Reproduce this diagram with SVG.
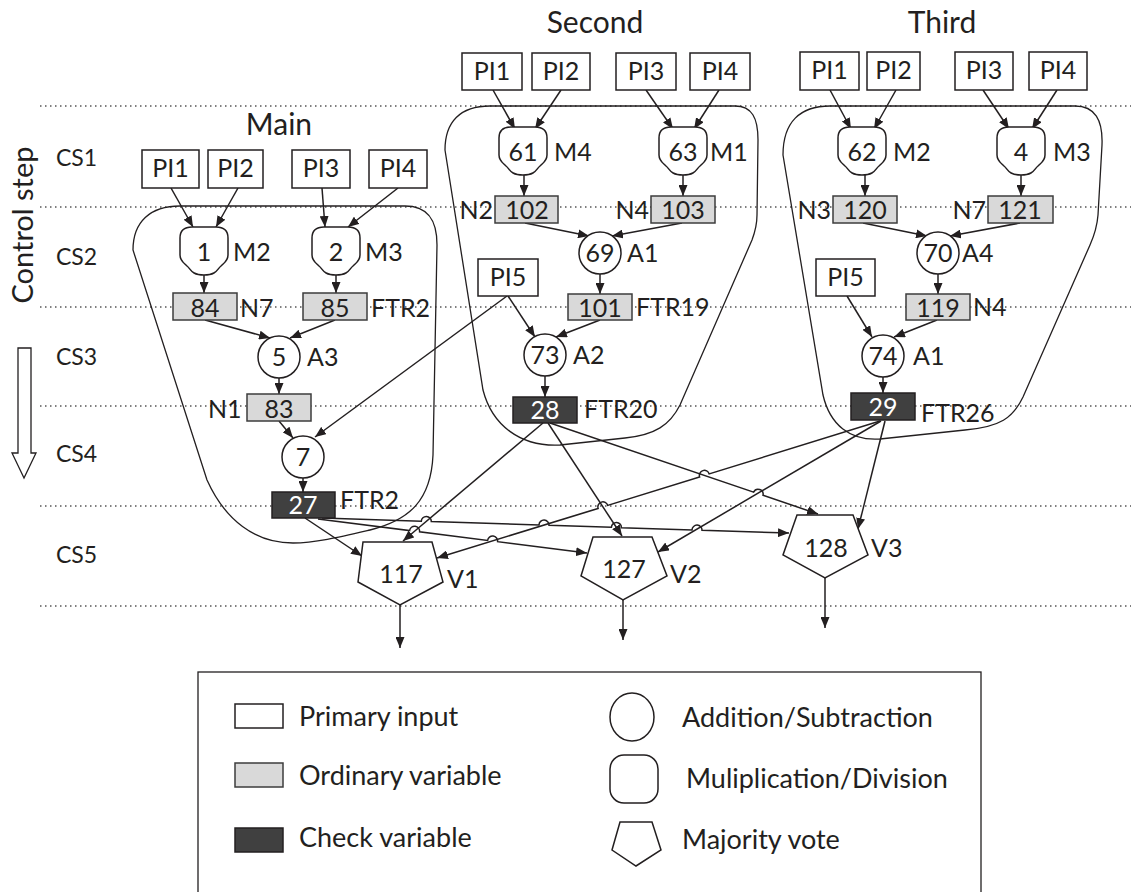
<svg xmlns="http://www.w3.org/2000/svg" width="1131" height="892" viewBox="0 0 1131 892">
  <style>
    .t { font-family: Lato, "Liberation Sans", sans-serif; font-size: 25px; fill: #231f20; }
    .c { text-anchor: middle; }
    .e { text-anchor: end; }
    .w { fill: #ffffff; }
    .title { font-size: 30px; }
    .cs { font-size: 23px; }
    .lg { font-size: 27px; }
    .pi { fill: #ffffff; stroke: #231f20; stroke-width: 1.5; }
    .ov { fill: #d9d9d9; stroke: #3c3c3c; stroke-width: 1.5; }
    .cv { fill: #404040; stroke: #231f20; stroke-width: 1.5; }
    .op { fill: #ffffff; stroke: #231f20; stroke-width: 1.5; }
    .region { fill: none; stroke: #231f20; stroke-width: 1.3; }
    .grid { stroke: #555555; stroke-width: 1.5; stroke-dasharray: 1.5 3.5; }
    .edge { fill: none; stroke: #231f20; stroke-width: 1.5; marker-end: url(#ah); }
  </style>
  <defs>
    <marker id="ah" markerUnits="userSpaceOnUse" markerWidth="11" markerHeight="9" refX="11" refY="4.5" orient="auto">
      <path d="M0,0 L11,4.5 L0,9 Z" fill="#231f20"/>
    </marker>
    <!-- multiplication / division operator outline, centred on 0,0 -->
    <path id="mul" d="M-24,-13 Q-24,-24 -12,-24 L12,-24 Q24,-24 24,-13 L24,4 C24,10 20,12 17,15 C13,18 13,24 0,24 C-13,24 -13,18 -17,15 C-20,12 -24,10 -24,4 Z"/>
  </defs>

  <rect width="1131" height="892" fill="#ffffff"/>

  <!-- control step separators -->
  <g id="steps">
    <line class="grid" x1="40" y1="106" x2="1131" y2="106"/>
    <line class="grid" x1="40" y1="207" x2="1131" y2="207"/>
    <line class="grid" x1="40" y1="307" x2="1131" y2="307"/>
    <line class="grid" x1="40" y1="406" x2="1131" y2="406"/>
    <line class="grid" x1="40" y1="506" x2="1131" y2="506"/>
    <line class="grid" x1="40" y1="606" x2="1131" y2="606"/>
    <text class="t cs" x="56" y="166">CS1</text>
    <text class="t cs" x="56" y="265">CS2</text>
    <text class="t cs" x="56" y="365">CS3</text>
    <text class="t cs" x="56" y="462">CS4</text>
    <text class="t cs" x="56" y="563">CS5</text>
    <text class="t c" transform="translate(33,225) rotate(-90)" style="font-size:29px">Control step</text>
    <polygon points="18,348 31,348 31,453 36,453 24,478 12,453 18,453" fill="#ffffff" stroke="#231f20" stroke-width="1.3"/>
  </g>

  <!-- module outlines -->
  <g id="regions">
    <path class="region" d="M133,250 C133,222 150,206 180,206 L405,206 C428,206 437,220 437,245 L433,455 C431,500 410,520 370,530 C340,537 315,543 293,543 C255,543 225,520 207,480 Z"/>
    <path class="region" d="M445,150 C445,122 460,106 490,106 L735,106 C752,106 758,118 758,140 L757,215 C757,225 755,232 752,240 L680,405 C670,425 655,435 625,438 L560,445 C520,447 492,425 483,390 Z"/>
    <path class="region" d="M783,155 C783,122 800,106 830,106 L1075,106 C1095,106 1103,120 1102,145 L1098,215 C1097,228 1094,236 1090,245 L1023,397 C1013,418 1000,427 965,430 L880,439 C850,441 830,425 823,395 Z"/>
  </g>

  <g id="titles">
    <text class="t title c" x="279" y="135">Main</text>
    <text class="t title c" x="595" y="33">Second</text>
    <text class="t title c" x="942" y="33">Third</text>
  </g>

  <!-- connectors -->
  <g id="connectors">
    <!-- main -->
    <path class="edge" d="M171,188 L193,227"/>
    <path class="edge" d="M238,188 L216,227"/>
    <path class="edge" d="M322,188 L325,227"/>
    <path class="edge" d="M398,188 L348,227"/>
    <path class="edge" d="M204,275 L204,293"/>
    <path class="edge" d="M336,275 L336,293"/>
    <path class="edge" d="M205,320 L270,338"/>
    <path class="edge" d="M335,320 L290,338"/>
    <path class="edge" d="M279,378 L279,394"/>
    <path class="edge" d="M279,421 L293,438"/>
    <path class="edge" d="M303,478 L303,492"/>
    <path class="edge" d="M507,296 L315,437"/>
    <!-- second -->
    <path class="edge" d="M493,90 L515,129"/>
    <path class="edge" d="M561,90 L535,129"/>
    <path class="edge" d="M646,90 L673,129"/>
    <path class="edge" d="M719,90 L694,129"/>
    <path class="edge" d="M524,175 L524,196"/>
    <path class="edge" d="M683,175 L683,196"/>
    <path class="edge" d="M525,223 L589,236"/>
    <path class="edge" d="M682,223 L612,236"/>
    <path class="edge" d="M600,274 L600,294"/>
    <path class="edge" d="M508,296 L535,337"/>
    <path class="edge" d="M600,320 L556,337"/>
    <path class="edge" d="M545,376 L545,397"/>
    <!-- third -->
    <path class="edge" d="M830,90 L851,129"/>
    <path class="edge" d="M896,90 L874,129"/>
    <path class="edge" d="M983,90 L1009,129"/>
    <path class="edge" d="M1057,90 L1032,129"/>
    <path class="edge" d="M865,175 L865,196"/>
    <path class="edge" d="M1021,175 L1021,196"/>
    <path class="edge" d="M863,223 L927,236"/>
    <path class="edge" d="M1020,223 L950,236"/>
    <path class="edge" d="M938,274 L938,294"/>
    <path class="edge" d="M847,296 L872,337"/>
    <path class="edge" d="M937,320 L894,337"/>
    <path class="edge" d="M883,377 L883,393"/>
    <!-- check variables to voters (with line hops) -->
    <path class="edge" d="M305,518 L362,556"/>
    <path class="edge" d="M318,519 L409.6,530.6 A5,5 0 0 1 419.6,531.8 L487.6,540.5 A5,5 0 0 1 497.6,541.7 L587,553"/>
    <path class="edge" d="M322,518 L421.3,521.2 A5,5 0 0 1 431.3,521.6 L539,524.9 A5,5 0 0 1 549,525.3 L611.4,527.3 A5,5 0 0 1 621.4,527.7 L692,529.9 A5,5 0 0 1 702,530.3 L789,533"/>
    <path class="edge" d="M543,423 L403,541"/>
    <path class="edge" d="M548,423 L622,536"/>
    <path class="edge" d="M550,423 L753.6,492.1 A5,5 0 0 1 763,495.3 L818,514"/>
    <path class="edge" d="M880,421 L709.2,473.9 A5,5 0 0 0 699.6,476.9 L607.7,505.4 A5,5 0 0 0 598.1,508.4 L437,558"/>
    <path class="edge" d="M881,421 L658,552"/>
    <path class="edge" d="M885,421 L858,529"/>
    <!-- voter outputs -->
    <path class="edge" d="M400,605 L400,648"/>
    <path class="edge" d="M623,600 L623,640"/>
    <path class="edge" d="M825,578 L825,628"/>
  </g>

  <!-- main module -->
  <g id="main-pi1"><rect class="pi" x="142" y="150" width="57" height="38"/><text class="t c" x="170.5" y="177">PI1</text></g>
  <g id="main-pi2"><rect class="pi" x="208" y="150" width="55" height="38"/><text class="t c" x="235.5" y="177">PI2</text></g>
  <g id="main-pi3"><rect class="pi" x="292" y="150" width="58" height="38"/><text class="t c" x="321" y="177">PI3</text></g>
  <g id="main-pi4"><rect class="pi" x="369" y="150" width="58" height="38"/><text class="t c" x="398" y="177">PI4</text></g>
  <g id="main-op1"><use href="#mul" x="204" y="251" class="op"/><text class="t c" x="204" y="261">1</text><text class="t" x="233" y="261">M2</text></g>
  <g id="main-op2"><use href="#mul" x="336" y="251" class="op"/><text class="t c" x="336" y="261">2</text><text class="t" x="365" y="261">M3</text></g>
  <g id="main-v84"><rect class="ov" x="173" y="293" width="64" height="27"/><text class="t c" x="205" y="317">84</text><text class="t" x="240" y="317">N7</text></g>
  <g id="main-v85"><rect class="ov" x="303" y="293" width="64" height="27"/><text class="t c" x="335" y="317">85</text><text class="t" x="371" y="317">FTR2</text></g>
  <g id="main-op5"><circle class="op" cx="279" cy="357" r="21"/><text class="t c" x="279" y="366">5</text><text class="t" x="307" y="366">A3</text></g>
  <g id="main-v83"><rect class="ov" x="247" y="394" width="64" height="27"/><text class="t c" x="279" y="418">83</text><text class="t" x="208" y="418">N1</text></g>
  <g id="main-op7"><circle class="op" cx="303" cy="457" r="21"/><text class="t c" x="303" y="466">7</text></g>
  <g id="main-v27"><rect class="cv" x="272" y="492" width="63" height="26"/><text class="t c w" x="303" y="514">27</text><text class="t" x="340" y="509">FTR2</text></g>

  <!-- second module -->
  <g id="second-pi1"><rect class="pi" x="462" y="53" width="60" height="37"/><text class="t c" x="492" y="80">PI1</text></g>
  <g id="second-pi2"><rect class="pi" x="532" y="53" width="58" height="37"/><text class="t c" x="561" y="80">PI2</text></g>
  <g id="second-pi3"><rect class="pi" x="616" y="53" width="60" height="37"/><text class="t c" x="646" y="80">PI3</text></g>
  <g id="second-pi4"><rect class="pi" x="690" y="53" width="60" height="37"/><text class="t c" x="720" y="80">PI4</text></g>
  <g id="second-op61"><use href="#mul" x="523" y="151" class="op"/><text class="t c" x="523" y="161">61</text><text class="t" x="554" y="161">M4</text></g>
  <g id="second-op63"><use href="#mul" x="683" y="151" class="op"/><text class="t c" x="683" y="161">63</text><text class="t" x="710" y="161">M1</text></g>
  <g id="second-v102"><rect class="ov" x="495" y="196" width="63" height="27"/><text class="t c" x="527" y="219">102</text><text class="t e" x="493" y="219">N2</text></g>
  <g id="second-v103"><rect class="ov" x="651" y="196" width="64" height="27"/><text class="t c" x="683" y="219">103</text><text class="t e" x="649" y="219">N4</text></g>
  <g id="second-op69"><circle class="op" cx="600" cy="253" r="21"/><text class="t c" x="600" y="262">69</text><text class="t" x="627" y="262">A1</text></g>
  <g id="second-pi5"><rect class="pi" x="478" y="259" width="60" height="37"/><text class="t c" x="508" y="286">PI5</text></g>
  <g id="second-v101"><rect class="ov" x="568" y="294" width="64" height="26"/><text class="t c" x="600" y="317">101</text><text class="t" x="636" y="316">FTR19</text></g>
  <g id="second-op73"><circle class="op" cx="545" cy="355" r="21"/><text class="t c" x="545" y="364">73</text><text class="t" x="573" y="364">A2</text></g>
  <g id="second-v28"><rect class="cv" x="513" y="397" width="64" height="26"/><text class="t c w" x="545" y="419">28</text><text class="t" x="584" y="418">FTR20</text></g>

  <!-- third module -->
  <g id="third-pi1"><rect class="pi" x="800" y="52" width="59" height="38"/><text class="t c" x="829.5" y="79">PI1</text></g>
  <g id="third-pi2"><rect class="pi" x="867" y="52" width="53" height="38"/><text class="t c" x="893.5" y="79">PI2</text></g>
  <g id="third-pi3"><rect class="pi" x="955" y="52" width="58" height="38"/><text class="t c" x="984" y="79">PI3</text></g>
  <g id="third-pi4"><rect class="pi" x="1029" y="52" width="58" height="38"/><text class="t c" x="1058" y="79">PI4</text></g>
  <g id="third-op62"><use href="#mul" x="862" y="151" class="op"/><text class="t c" x="862" y="161">62</text><text class="t" x="893" y="161">M2</text></g>
  <g id="third-op4"><use href="#mul" x="1021" y="151" class="op"/><text class="t c" x="1021" y="161">4</text><text class="t" x="1053" y="161">M3</text></g>
  <g id="third-v120"><rect class="ov" x="833" y="196" width="64" height="27"/><text class="t c" x="865" y="219">120</text><text class="t e" x="831" y="219">N3</text></g>
  <g id="third-v121"><rect class="ov" x="988" y="196" width="65" height="27"/><text class="t c" x="1020" y="219">121</text><text class="t e" x="986" y="219">N7</text></g>
  <g id="third-op70"><circle class="op" cx="938" cy="253" r="21"/><text class="t c" x="938" y="262">70</text><text class="t" x="962" y="262">A4</text></g>
  <g id="third-pi5"><rect class="pi" x="816" y="259" width="59" height="37"/><text class="t c" x="845.5" y="286">PI5</text></g>
  <g id="third-v119"><rect class="ov" x="906" y="294" width="64" height="26"/><text class="t c" x="938" y="317">119</text><text class="t" x="973" y="316">N4</text></g>
  <g id="third-op74"><circle class="op" cx="883" cy="356" r="21"/><text class="t c" x="883" y="365">74</text><text class="t" x="913" y="365">A1</text></g>
  <g id="third-v29"><rect class="cv" x="851" y="393" width="64" height="27"/><text class="t c w" x="883" y="416">29</text><text class="t" x="921" y="422">FTR26</text></g>

  <!-- majority voters -->
  <g id="voter-117"><polygon class="op" points="363,542 432,542 443,582 400,605 358,582"/><text class="t c" x="401" y="583">117</text><text class="t" x="447" y="588">V1</text></g>
  <g id="voter-127"><polygon class="op" points="593,537 652,537 667,576 623,600 581,576"/><text class="t c" x="624" y="578">127</text><text class="t" x="670" y="583">V2</text></g>
  <g id="voter-128"><polygon class="op" points="797,515 853,515 868,555 825,578 783,555"/><text class="t c" x="826" y="557">128</text><text class="t" x="871" y="557">V3</text></g>

  <!-- legend -->
  <g id="legend">
    <rect x="198" y="672" width="783" height="240" fill="#ffffff" stroke="#231f20" stroke-width="1.3"/>
    <rect class="pi" x="235" y="704" width="48" height="24" stroke-width="1.2"/>
    <text class="t lg" x="299" y="726">Primary input</text>
    <rect class="ov" x="235" y="763" width="48" height="24" stroke-width="1.2"/>
    <text class="t lg" x="299" y="785">Ordinary variable</text>
    <rect class="cv" x="235" y="828" width="48" height="24" stroke-width="1.2"/>
    <text class="t lg" x="299" y="847">Check variable</text>
    <ellipse class="op" cx="632" cy="717" rx="22" ry="24" stroke-width="1.2"/>
    <text class="t lg" x="682" y="727">Addition/Subtraction</text>
    <rect class="op" x="610" y="755" width="48" height="48" rx="14" stroke-width="1.2"/>
    <text class="t lg" x="686" y="788">Muliplication/Division</text>
    <polygon class="op" points="620,822 652,822 661,850 636,866 612,850" stroke-width="1.2"/>
    <text class="t lg" x="682" y="849">Majority vote</text>
  </g>
</svg>
